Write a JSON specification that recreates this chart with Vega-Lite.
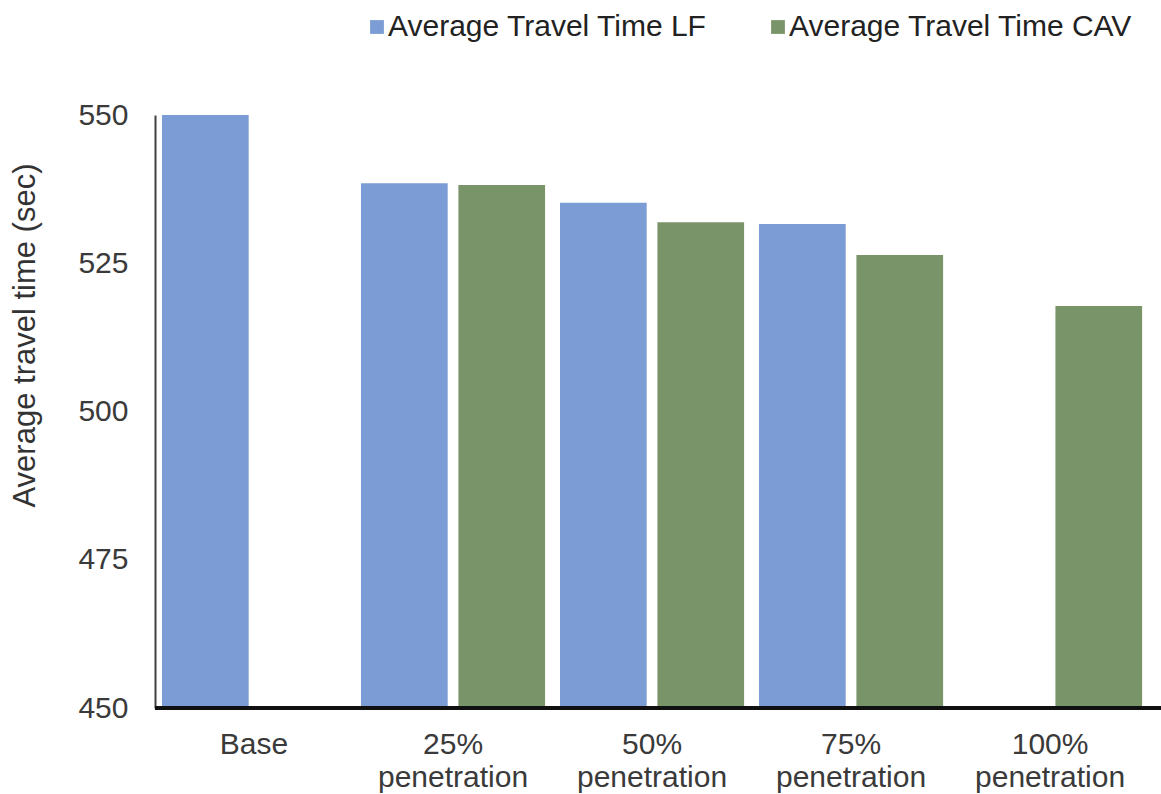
{
  "$schema": "https://vega.github.io/schema/vega-lite/v6.json",
  "autosize": {"type": "none"},
  "padding": {"left": 155, "top": 115, "right": 0, "bottom": 86},
  "width": 1006,
  "height": 593,
  "background": "white",
  "config": {
    "view": {"stroke": null},
    "font": "Liberation Sans"
  },
  "data": {
    "values": [
      {"scenario": "Base", "series": "Average Travel Time LF", "time": 550.0},
      {"scenario": "25% penetration", "series": "Average Travel Time LF", "time": 538.5},
      {"scenario": "25% penetration", "series": "Average Travel Time CAV", "time": 538.2},
      {"scenario": "50% penetration", "series": "Average Travel Time LF", "time": 535.2},
      {"scenario": "50% penetration", "series": "Average Travel Time CAV", "time": 531.9},
      {"scenario": "75% penetration", "series": "Average Travel Time LF", "time": 531.6},
      {"scenario": "75% penetration", "series": "Average Travel Time CAV", "time": 526.4},
      {"scenario": "100% penetration", "series": "Average Travel Time CAV", "time": 517.8}
    ]
  },
  "layer": [
    {
      "mark": {"type": "bar", "clip": true},
      "encoding": {
        "x": {
          "field": "scenario",
          "type": "nominal",
          "sort": ["Base", "25% penetration", "50% penetration", "75% penetration", "100% penetration"],
          "scale": {"paddingInner": 0.075, "paddingOuter": 0.065, "align": 0.27},
          "axis": {
            "title": null,
            "labelAngle": 0,
            "labelExpr": "split(datum.label, ' ')",
            "labelFontSize": 30,
            "labelColor": "#3a3a3a",
            "labelLineHeight": 33,
            "labelPadding": 21,
            "ticks": false,
            "domain": false
          }
        },
        "xOffset": {
          "field": "series",
          "type": "nominal",
          "sort": ["Average Travel Time LF", "Average Travel Time CAV"],
          "scale": {"paddingInner": 0.11}
        },
        "y": {
          "field": "time",
          "type": "quantitative",
          "scale": {"domain": [450, 550], "zero": false, "nice": false},
          "axis": {
            "values": [450, 475, 500, 525, 550],
            "title": "Average travel time (sec)",
            "titleFontSize": 31,
            "titleFontWeight": "normal",
            "titleColor": "#333333",
            "titleAlign": "center",
            "titleY": 220,
            "titleX": -114,
            "labelFontSize": 30,
            "labelColor": "#3a3a3a",
            "labelPadding": 27,
            "ticks": false,
            "grid": false,
            "domainColor": "#404040",
            "domainWidth": 2
          }
        },
        "color": {
          "field": "series",
          "type": "nominal",
          "sort": ["Average Travel Time LF", "Average Travel Time CAV"],
          "scale": {"range": ["#7b9cd4", "#7a946a"]},
          "legend": {
            "title": null,
            "orient": "none",
            "legendX": 207,
            "legendY": -103,
            "direction": "horizontal",
            "symbolType": "square",
            "symbolSize": 190,
            "symbolStrokeWidth": 0,
            "labelFontSize": 30,
            "labelLimit": 0,
            "labelColor": "#222222",
            "labelOffset": -4,
            "columnPadding": 56
          }
        }
      }
    },
    {
      "mark": {"type": "rule", "color": "#111111", "strokeWidth": 3},
      "encoding": {"y": {"datum": 450}}
    }
  ]
}
